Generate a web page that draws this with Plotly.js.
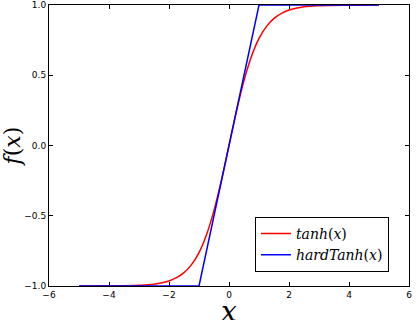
<!DOCTYPE html>
<html>
<head>
<meta charset="utf-8">
<script src="https://cdn.plot.ly/plotly-3.0.1.min.js"></script>
<style>body{margin:0;background:#fff}</style>
</head>
<body>
<div id="chart" style="width:416px;height:320px"></div>
<script>
var tanhX = [-5, -4, -3, -2.5, -2, -1.75, -1.5, -1.25, -1, -0.75, -0.5, -0.25, 0,
             0.25, 0.5, 0.75, 1, 1.25, 1.5, 1.75, 2, 2.5, 3, 4, 5];
var tanhY = [-1.0, -0.999, -0.995, -0.987, -0.964, -0.941, -0.905, -0.848, -0.762, -0.635, -0.462, -0.245, 0,
             0.245, 0.462, 0.635, 0.762, 0.848, 0.905, 0.941, 0.964, 0.987, 0.995, 0.999, 1.0];
var hardX = [-5, -1, 1, 5];
var hardY = [-1, -1, 1, 1];
var xTicks = [-6, -4, -2, 0, 2, 4, 6];
var yTicks = [-1, -0.5, 0, 0.5, 1];

var trace1 = {
  x: tanhX,
  y: tanhY,
  mode: 'lines',
  name: '<i>tanh</i>(<i>x</i>)',
  line: {color: '#ff0000', width: 1.5, shape: 'spline'},
  type: 'scatter'
};

var trace2 = {
  x: hardX,
  y: hardY,
  mode: 'lines',
  name: '<i>hardTanh</i>(<i>x</i>)',
  line: {color: '#0000ff', width: 1.5},
  type: 'scatter'
};

var axisCommon = {
  showgrid: false,
  zeroline: false,
  showline: true,
  mirror: 'ticks',
  linecolor: '#000',
  linewidth: 1,
  layer: 'below traces',
  ticks: 'inside',
  ticklen: 4,
  tickcolor: '#000',
  tickfont: {family: 'DejaVu Sans', size: 9, color: '#000'}
};

var layout = {
  width: 416,
  height: 320,
  margin: {l: 49, r: 7, t: 5, b: 34},
  paper_bgcolor: '#fff',
  plot_bgcolor: '#fff',
  showlegend: true,
  xaxis: Object.assign({}, axisCommon, {
    range: [-6, 6],
    tickvals: xTicks
  }),
  yaxis: Object.assign({}, axisCommon, {
    range: [-1, 1],
    tickvals: yTicks,
    tickformat: '.1f',
    title: {text: '<i>f</i>(<i>x</i>)', font: {family: 'DejaVu Serif', size: 22, color: '#000'}, standoff: 6}
  }),
  annotations: [{
    text: '<i>x</i>',
    xref: 'paper', yref: 'paper',
    x: 0.5, y: -0.068,
    yshift: -6,
    xanchor: 'center', yanchor: 'middle',
    showarrow: false,
    font: {family: 'DejaVu Serif', size: 28, color: '#000'}
  }],
  legend: {
    x: 0.572,
    y: 0.246,
    xanchor: 'left',
    yanchor: 'top',
    bgcolor: '#fff',
    bordercolor: '#000',
    borderwidth: 1,
    font: {family: 'DejaVu Serif', size: 14, color: '#000'}
  }
};

Plotly.newPlot('chart', [trace1, trace2], layout, {displayModeBar: false});
</script>
</body>
</html>
